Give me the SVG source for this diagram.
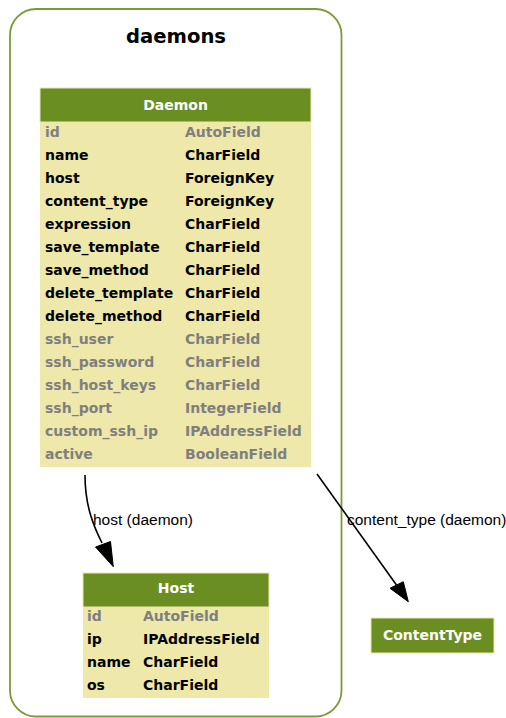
<svg xmlns="http://www.w3.org/2000/svg" width="506" height="718" viewBox="0 0 506 718">
<style>
.cl{fill:#fff;stroke:#7a9a3a;stroke-width:1.8}
.hd{fill:#6b8e23;stroke:#eee8aa;stroke-width:1}
.bd{fill:#eee8aa}
.ht{font-family:"DejaVu Sans",sans-serif;font-weight:bold;font-size:14px;fill:#fff;text-anchor:middle}
.f{font-family:"DejaVu Sans",sans-serif;font-weight:bold;font-size:14px;fill:#000}
.g{fill:#7f7f7f}
.lb{font-family:"Liberation Sans",Arial,sans-serif;font-size:15.5px;fill:#000}
.e{fill:none;stroke:#000;stroke-width:1.6}
.ah{fill:#000;stroke:#000;stroke-width:1}
.title{font-family:"DejaVu Sans",sans-serif;font-weight:bold;font-size:19.6px;fill:#000;text-anchor:middle}
</style>
<g id="cluster_daemons">
<rect class="cl" x="10" y="9" width="331.5" height="707.5" rx="26" ry="26"/>
<text class="title" x="176" y="42.7">daemons</text>
</g>
<g id="Daemon">
<rect class="bd" x="40" y="121" width="271" height="346"/>
<rect class="hd" x="40" y="88" width="271" height="34"/>
<text class="ht" x="175.5" y="110">Daemon</text>
<text class="f g" x="45" y="137">id</text><text class="f g" x="185" y="137">AutoField</text>
<text class="f" x="45" y="160">name</text><text class="f" x="185" y="160">CharField</text>
<text class="f" x="45" y="183">host</text><text class="f" x="185" y="183">ForeignKey</text>
<text class="f" x="45" y="206">content_type</text><text class="f" x="185" y="206">ForeignKey</text>
<text class="f" x="45" y="229">expression</text><text class="f" x="185" y="229">CharField</text>
<text class="f" x="45" y="252">save_template</text><text class="f" x="185" y="252">CharField</text>
<text class="f" x="45" y="275">save_method</text><text class="f" x="185" y="275">CharField</text>
<text class="f" x="45" y="298">delete_template</text><text class="f" x="185" y="298">CharField</text>
<text class="f" x="45" y="321">delete_method</text><text class="f" x="185" y="321">CharField</text>
<text class="f g" x="45" y="344">ssh_user</text><text class="f g" x="185" y="344">CharField</text>
<text class="f g" x="45" y="367">ssh_password</text><text class="f g" x="185" y="367">CharField</text>
<text class="f g" x="45" y="390">ssh_host_keys</text><text class="f g" x="185" y="390">CharField</text>
<text class="f g" x="45" y="413">ssh_port</text><text class="f g" x="185" y="413">IntegerField</text>
<text class="f g" x="45" y="436">custom_ssh_ip</text><text class="f g" x="185" y="436">IPAddressField</text>
<text class="f g" x="45" y="459">active</text><text class="f g" x="185" y="459">BooleanField</text>
</g>
<g id="Host">
<rect class="bd" x="83" y="606" width="186" height="92"/>
<rect class="hd" x="83" y="573" width="186" height="34"/>
<text class="ht" x="176" y="593">Host</text>
<text class="f g" x="87" y="621">id</text><text class="f g" x="143" y="621">AutoField</text>
<text class="f" x="87" y="644">ip</text><text class="f" x="143" y="644">IPAddressField</text>
<text class="f" x="87" y="667">name</text><text class="f" x="143" y="667">CharField</text>
<text class="f" x="87" y="690">os</text><text class="f" x="143" y="690">CharField</text>
</g>
<g id="ContentType">
<rect class="hd" x="371" y="618" width="123" height="35"/>
<text class="ht" x="432.5" y="640">ContentType</text>
</g>
<g id="connectors">
<path class="e" d="M85,475 C85,505 93,525 102,543"/>
<path class="ah" d="M95.5,547 L110.5,541.5 L113.3,566.7 z"/>
<text class="lb" x="93" y="525">host (daemon)</text>
<path class="e" d="M317,474 L396.5,585"/>
<path class="ah" d="M390,588.3 L403.3,581.7 L408.3,601.7 z"/>
<text class="lb" x="347" y="525">content_type (daemon)</text>
</g>
</svg>
